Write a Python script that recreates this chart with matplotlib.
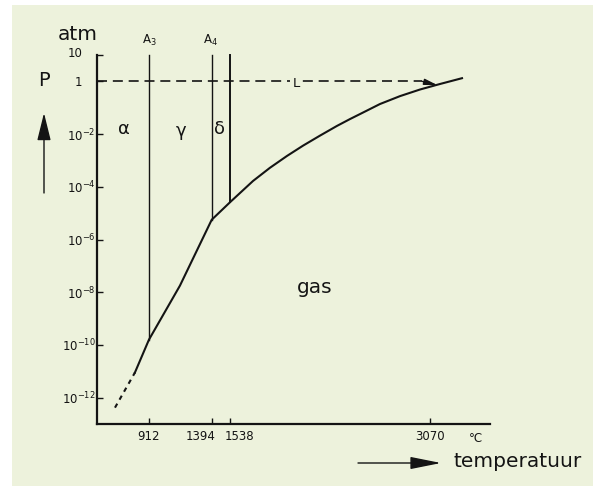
import matplotlib
matplotlib.use("Agg")
import matplotlib.pyplot as plt
import matplotlib.transforms as mtransforms
from matplotlib.patches import FancyArrowPatch, Rectangle

# ---------------- data ----------------
# vapour-pressure (sublimation / evaporation) curve of iron, log10(p/atm)
curve_T = [804, 912, 1150, 1394, 1538, 1711, 1841, 1972, 2095, 2225, 2356,
           2456, 2533, 2686, 2840, 2993, 3147, 3316]
curve_logp = [-11.05, -9.80, -7.75, -5.25, -4.57, -3.78, -3.28, -2.83, -2.44,
              -2.06, -1.69, -1.43, -1.24, -0.86, -0.56, -0.31, -0.10, 0.12]
# extrapolated (dashed) low-temperature part
extrap_T = [651, 804]
extrap_logp = [-12.38, -11.05]
# phase transitions (vertical lines), their log10 p at the curve
trans_T = [912, 1394, 1538]
trans_logp = [-9.80, -5.25, -4.57]
trans_names = ["A$_3$", "A$_4$"]
trans_name_T = [912, 1388]
boil_T = 3070
p_one_atm = 1.0

phase_names = ["α", "γ", "δ"]
phase_T = [720, 1158, 1457]
phase_logp = [-1.80, -1.88, -1.80]

ytick_exp = [1, 0, -2, -4, -6, -8, -10, -12]
ytick_labels = ["10", "1", r"$10^{-2}$", r"$10^{-4}$", r"$10^{-6}$",
                r"$10^{-8}$", r"$10^{-10}$", r"$10^{-12}$"]
xtick_vals = [912, 1394, 1538, 3070]
xtick_labels = ["912", "1394", "1538", "3070"]

# ---------------- figure ----------------
BG = "#edf2dc"
INK = "#141414"
fig = plt.figure(figsize=(6.0, 4.86), dpi=100, facecolor="white")
fig.patches.append(Rectangle((12 / 600, 0), (593 - 12) / 600, (486 - 5) / 486,
                             transform=fig.transFigure, facecolor=BG,
                             edgecolor="none", zorder=-10))

ax = fig.add_axes([97 / 600, 1 - 424 / 486, 393 / 600, 369 / 486])
ax.set_facecolor("none")
ax.set_yscale("log")
ax.set_xlim(513, 3531)
ax.set_ylim(1e-13, 10)
for s in ["top", "right"]:
    ax.spines[s].set_visible(False)
for s in ["left", "bottom"]:
    ax.spines[s].set_linewidth(1.6)
    ax.spines[s].set_color(INK)

# ticks
ax.minorticks_off()
ax.set_yticks([10.0 ** e for e in ytick_exp])
ax.set_yticklabels(ytick_labels)
ax.set_xticks(xtick_vals)
ax.set_xticklabels(xtick_labels)
ax.tick_params(axis="both", direction="in", length=4, width=1.0, color=INK,
               labelsize=8.5, labelcolor=INK)
ax.tick_params(axis="y", pad=1)
ax.tick_params(axis="x", pad=4)

dpi_tr = fig.dpi_scale_trans
for lab, txt in zip(ax.get_yticklabels(), ytick_labels):
    if not txt.startswith("$"):
        dy = 3 / 100 if txt == "10" else 0
        lab.set_transform(lab.get_transform() +
                          mtransforms.ScaledTranslation(-13 / 100, dy, dpi_tr))
xl = ax.get_xticklabels()
xl[1].set_ha("right")
xl[1].set_transform(xl[1].get_transform() + mtransforms.ScaledTranslation(4 / 100, 0, dpi_tr))
xl[2].set_ha("left")
xl[2].set_transform(xl[2].get_transform() + mtransforms.ScaledTranslation(-6 / 100, 0, dpi_tr))

# unit label on the temperature axis
ax.text(3423, -0.021, "°C", transform=ax.get_xaxis_transform(), ha="center",
        va="top", fontsize=8.5, color=INK)

# ---------------- curves ----------------
ax.plot(curve_T, [10.0 ** v for v in curve_logp], color=INK, lw=1.5,
        solid_joinstyle="round", zorder=3)
ax.plot(extrap_T, [10.0 ** v for v in extrap_logp], color=INK, lw=1.5,
        dashes=(2.2, 2.2), zorder=3)

for T, lp in zip(trans_T, trans_logp):
    ax.plot([T, T], [10.0, 10.0 ** lp], color=INK, lw=1.0 if T != 1538 else 1.4,
            zorder=2, clip_on=False)

# 1 atm dashed line up to the boiling point
ax.plot([513, boil_T - 60], [p_one_atm, p_one_atm], color=INK, lw=1.2,
        dashes=(6, 3.5), zorder=2)
ax.annotate("", xy=(boil_T + 60, p_one_atm * 10 ** -0.15),
            xytext=(boil_T - 60, p_one_atm),
            arrowprops=dict(arrowstyle="-|>,head_length=0.8,head_width=0.18",
                            color=INK, lw=1.0, shrinkA=0, shrinkB=0))

# ---------------- labels ----------------
for name, T in zip(trans_names, trans_name_T):
    ax.text(T, 10 ** 1.57, name, ha="center", va="center", fontsize=8.5,
            color=INK, clip_on=False)
for name, T, lp in zip(phase_names, phase_T, phase_logp):
    ax.text(T, 10 ** lp, name, ha="center", va="center", fontsize=13,
            color=INK)
ax.text(2041, 10 ** -0.10, "L", ha="center", va="center", fontsize=9.5,
        color=INK, bbox=dict(facecolor=BG, edgecolor="none", pad=1.5), zorder=4)
ax.text(2187, 10 ** -7.83, "gas", ha="center", va="center", fontsize=14.5,
        color=INK)

fig.text(78 / 600, 1 - 35 / 486, "atm", ha="center", va="center",
         fontsize=14.5, color=INK)
fig.text(44 / 600, 1 - 80 / 486, "P", ha="center", va="center",
         fontsize=14, color=INK)
fig.patches.append(FancyArrowPatch((44 / 600, 1 - 193 / 486), (44 / 600, 1 - 113 / 486),
                                   transform=fig.transFigure,
                                   arrowstyle="-|>,head_length=1.7,head_width=0.42",
                                   mutation_scale=10, color=INK, lw=1.0,
                                   shrinkA=0, shrinkB=0))
fig.patches.append(FancyArrowPatch((358 / 600, 1 - 463 / 486), (441 / 600, 1 - 463 / 486),
                                   transform=fig.transFigure,
                                   arrowstyle="-|>,head_length=1.9,head_width=0.38",
                                   mutation_scale=10, color=INK, lw=1.0,
                                   shrinkA=0, shrinkB=0))
fig.text(453 / 600, 1 - 461 / 486, "temperatuur", ha="left", va="center",
         fontsize=14.5, color=INK)

fig.savefig("out.png", dpi=100, facecolor="white")
